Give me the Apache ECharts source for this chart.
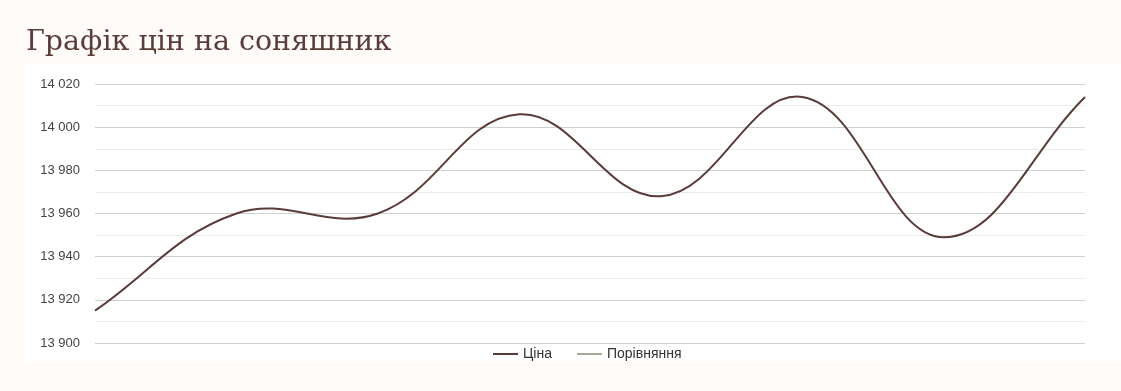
<!DOCTYPE html>
<html>
<head>
<meta charset="utf-8">
<script src="https://cdn.jsdelivr.net/npm/echarts@6/dist/echarts.min.js"></script>
<style>
html,body{margin:0;padding:0;background:#fffbf8;}
#c{width:1121px;height:391px;}
</style>
</head>
<body>
<div id="c"></div>
<script>
const titleText = 'Графік цін на соняшник';
const categories = ['1', '2', '3', '4', '5', '6', '7', '8'];
const priceValues = [13915, 13960, 13960, 14006, 13968, 14014, 13949, 14014];
const compareValues = [];
const seriesNames = ['Ціна', 'Порівняння'];
const yMin = 13900, yMax = 14020, yStep = 20;
const TENSION = 0.4;

function fmt(v) {
  return String(v).replace(/\B(?=(\d{3})+(?!\d))/g, ' ');
}

// spline through points projected by the chart's own axes
function renderSpline(params, api) {
  if (params.dataIndex !== 0) return null;
  const pts = priceValues.map((v, i) => api.coord([i, v]));
  const n = pts.length;
  const cps = pts.map((cur, i) => {
    const prev = pts[Math.max(0, i - 1)];
    const next = pts[Math.min(n - 1, i + 1)];
    const d01 = Math.hypot(cur[0] - prev[0], cur[1] - prev[1]);
    const d12 = Math.hypot(next[0] - cur[0], next[1] - cur[1]);
    let s01 = d01 / (d01 + d12), s12 = d12 / (d01 + d12);
    if (!isFinite(s01)) s01 = 0;
    if (!isFinite(s12)) s12 = 0;
    const fa = TENSION * s01, fb = TENSION * s12;
    return {
      prev: [cur[0] - fa * (next[0] - prev[0]), cur[1] - fa * (next[1] - prev[1])],
      next: [cur[0] + fb * (next[0] - prev[0]), cur[1] + fb * (next[1] - prev[1])]
    };
  });
  let d = 'M' + pts[0][0] + ' ' + pts[0][1];
  for (let i = 0; i < n - 1; i++) {
    const a = cps[i].next, b = cps[i + 1].prev, p = pts[i + 1];
    d += ' C' + a[0] + ' ' + a[1] + ' ' + b[0] + ' ' + b[1] + ' ' + p[0] + ' ' + p[1];
  }
  return {
    type: 'path',
    shape: {pathData: d},
    style: {fill: null, stroke: '#5b3b39', lineWidth: 2, lineJoin: 'round'}
  };
}

const chart = echarts.init(document.getElementById('c'), null, {renderer: 'canvas'});
chart.setOption({
  backgroundColor: '#fffbf8',
  animation: false,
  title: {
    text: titleText,
    left: 21, top: 23,
    textStyle: {fontFamily: 'DejaVu Serif', fontSize: 28.5, fontWeight: 'normal', color: '#5a3d3a'}
  },
  graphic: [{
    type: 'rect', left: 25, top: 64, z: -10,
    shape: {width: 1096, height: 298},
    style: {fill: '#ffffff'}
  }],
  legend: {
    data: seriesNames,
    top: 342, left: 488,
    icon: 'rect', itemWidth: 25, itemHeight: 2, itemGap: 25,
    textStyle: {fontFamily: 'Liberation Sans', fontSize: 14, color: '#333'}
  },
  grid: {left: 95, right: 36, top: 84, bottom: 48},
  xAxis: {
    type: 'category', data: categories, boundaryGap: false,
    axisLine: {show: false}, axisTick: {show: false}, axisLabel: {show: false}, splitLine: {show: false}
  },
  yAxis: {
    type: 'value', min: yMin, max: yMax, interval: yStep,
    axisLine: {show: false}, axisTick: {show: false},
    axisLabel: {formatter: fmt, margin: 15, fontFamily: 'Liberation Sans', fontSize: 13, color: '#444'},
    splitLine: {lineStyle: {color: '#d0d0d0', width: 1}},
    minorTick: {show: false, splitNumber: 2},
    minorSplitLine: {show: true, lineStyle: {color: '#ebebeb', width: 1}}
  },
  series: [{
    name: seriesNames[0], type: 'custom',
    data: priceValues.map((v, i) => [i, v]),
    encode: {x: 0, y: 1},
    renderItem: renderSpline,
    itemStyle: {color: '#5b3b39'}
  }, {
    name: seriesNames[1], type: 'line', data: compareValues,
    showSymbol: false, symbol: 'none',
    lineStyle: {color: '#a8a894', width: 2}, itemStyle: {color: '#a8a894'}
  }]
});
</script>
</body>
</html>
